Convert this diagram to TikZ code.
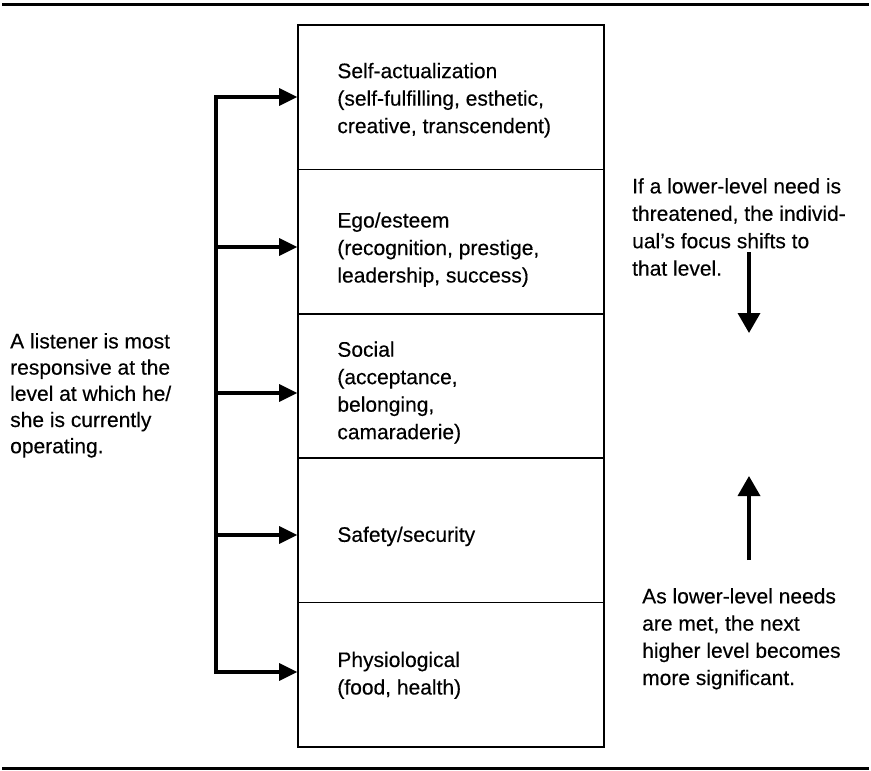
\documentclass[tikz,border=0pt]{standalone}
\usepackage{fontspec}
\setmainfont{Liberation Sans}[FakeBold=0.3]
\usetikzlibrary{arrows.meta}
\begin{document}
\begin{tikzpicture}[x=1pt,y=-1pt,
  levelbox/.style={draw, line width=1.6pt, minimum width=306pt, minimum height=144.4pt, inner sep=0pt},
  leveltext/.style={anchor=west, xshift=40pt, inner sep=0pt, align=left,
    font=\fontsize{21}{27.5}\selectfont},
  note/.style={align=left, inner sep=0pt, anchor=north west},
  feed/.style={line width=3.2pt, line join=miter},
  feedtip/.tip={Triangle[length=18pt,width=17pt]},
  focusarrow/.style={line width=3.6pt, -{Triangle[length=20pt,width=22pt]}},
  rule/.style={line width=3pt}]
\useasboundingbox (0,0) rectangle (871,771);

% horizontal rules above and below the figure
\draw[rule] (2,4) -- (869,4);
\draw[rule] (2,768) -- (869,768);

% the five stacked levels of the hierarchy
\node[levelbox] (B1) at (451,97.2) {};
\node[levelbox] (B2) at (451,241.6) {};
\node[levelbox] (B3) at (451,386) {};
\node[levelbox] (B4) at (451,530.4) {};
\node[levelbox] (B5) at (451,674.8) {};

\node[leveltext, yshift=-3pt] (T1) at (B1.west) {Self-actualization\\(self-fulfilling, esthetic,\\creative, transcendent)};
\node[leveltext, yshift=-8pt] (T2) at (B2.west) {Ego/esteem\\(recognition, prestige,\\leadership, success)};
\node[leveltext, yshift=-6.5pt] (T3) at (B3.west) {Social\\(acceptance,\\belonging,\\camaraderie)};
\node[leveltext, yshift=-6pt] (T4) at (B4.west) {Safety/security};
\node[leveltext, yshift=-0.5pt] (T5) at (B5.west) {Physiological\\(food, health)};

% spine of the feeder arrows on the left
\coordinate (s1) at (216,97);
\coordinate (s2) at (216,247);
\coordinate (s3) at (216,393);
\coordinate (s4) at (216,535);
\coordinate (s5) at (216,672);

\draw[feed,feedtip-feedtip] (s1 -| B1.west) -- (s1) -- (s5) -- (s5 -| B5.west);
\draw[feed,-feedtip] (s2) -- (s2 -| B2.west);
\draw[feed,-feedtip] (s3) -- (s3 -| B3.west);
\draw[feed,-feedtip] (s4) -- (s4 -| B4.west);

% explanatory notes
\node[note, font=\fontsize{21}{26.2}\selectfont] (listener) at (10,333) {A listener is most\\responsive at the\\level at which he/\\she is currently\\operating.};
\node[note, font=\fontsize{21}{27.4}\selectfont] (threat) at (632,178) {If a lower-level need is\\threatened, the individ-\\ual’s focus shifts to\\that level.};
\node[note, font=\fontsize{21}{27.2}\selectfont] (met) at (642,588) {As lower-level needs\\are met, the next\\higher level becomes\\more significant.};

% direction of focus shift
\coordinate (d1) at (749,252);
\coordinate (d2) at (749,333);
\coordinate (u1) at (749,560);
\coordinate (u2) at (749,476);
\draw[focusarrow] (d1) -- (d2);
\draw[focusarrow] (u1) -- (u2);
\end{tikzpicture}
\end{document}
